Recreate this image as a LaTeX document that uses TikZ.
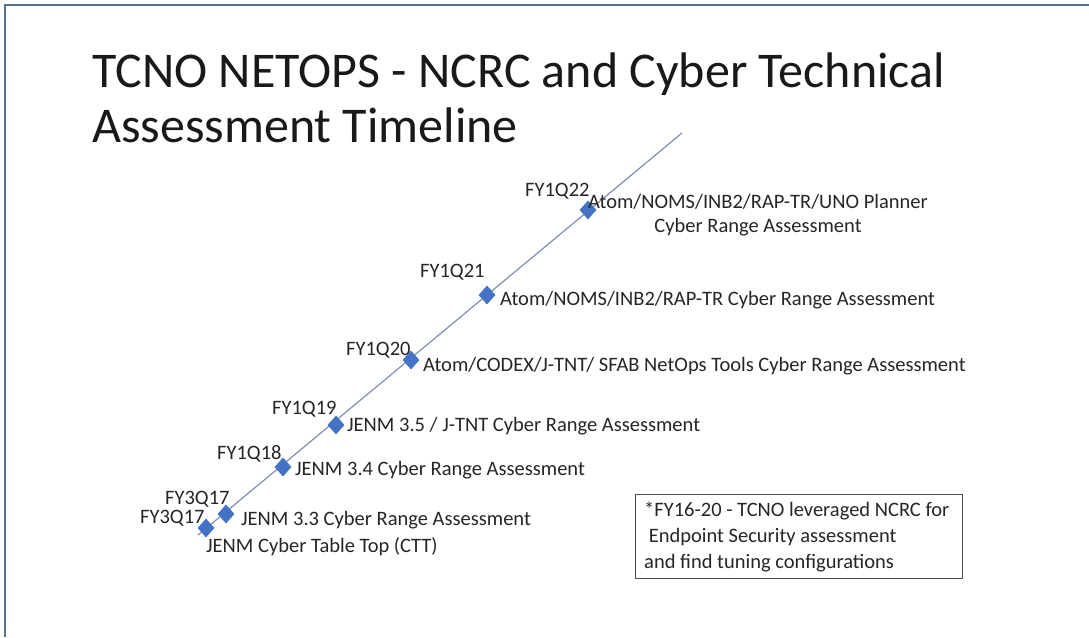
\documentclass[tikz,border=0pt]{standalone}
\usepackage{fontspec}
\setmainfont{Carlito}
\usetikzlibrary{shapes.geometric}
\definecolor{frameblue}{HTML}{5B7190}
\definecolor{dia}{HTML}{4472C4}
\definecolor{tline}{HTML}{7F8FB0}
\tikzset{
  dmd/.style={diamond,fill=dia,draw=none,minimum width=17pt,minimum height=19pt,inner sep=0pt},
  lbl/.style={anchor=base west,inner sep=0pt,font=\fontsize{20.5}{24}\selectfont,text=black!85},
}
\begin{document}
\begin{tikzpicture}[x=1pt,y=-1pt]
\useasboundingbox (0,0) rectangle (1089,637);
\fill[white] (0,0) rectangle (1089,637);
\draw[frameblue,line width=2.5pt] (5,637) -- (5,5) -- (1089,5);
% title
\node[anchor=base west,inner sep=0pt,align=left,font=\fontsize{50}{55}\selectfont,text=black!90] (title) at (92,142)
  {TCNO NETOPS - NCRC and Cyber Technical\\Assessment Timeline};
% timeline
\coordinate (s) at (198,535);
\coordinate (e) at (682,133);
\draw[tline,line width=1.2pt] (s) -- (e);
\node[dmd] (d1) at (206,528) {};
\node[dmd] (d2) at (226,514) {};
\node[dmd] (d3) at (283,467) {};
\node[dmd] (d4) at (336,425) {};
\node[dmd] (d5) at (411,360) {};
\node[dmd] (d6) at (487,295) {};
\node[dmd] (d7) at (588,210) {};
% labels
\node[lbl] (q22) at (525,196) {FY1Q22};
\node[lbl,align=center,anchor=base] (t22) at (758,232) {Atom/NOMS/INB2/RAP-TR/UNO Planner\\Cyber Range Assessment};
\node[lbl] (q21) at (420,277) {FY1Q21};
\node[lbl] (t21) at (500,305) {Atom/NOMS/INB2/RAP-TR Cyber Range Assessment};
\node[lbl] (q20) at (346,355) {FY1Q20};
\node[lbl] (t20) at (423,371) {Atom/CODEX/J-TNT/ SFAB NetOps Tools Cyber Range Assessment};
\node[lbl] (q19) at (272,414) {FY1Q19};
\node[lbl] (t19) at (347,431) {JENM 3.5 / J-TNT Cyber Range Assessment};
\node[lbl] (q18) at (217,459) {FY1Q18};
\node[lbl] (t18) at (295,475) {JENM 3.4 Cyber Range Assessment};
\node[lbl] (q17b) at (165,504) {FY3Q17};
\node[lbl] (t17b) at (241,525) {JENM 3.3 Cyber Range Assessment};
\node[lbl] (q17a) at (140,523) {FY3Q17};
\node[lbl] (t17a) at (206,552) {JENM Cyber Table Top (CTT)};
% note box
\draw[black!70,line width=0.8pt] (635,494) rectangle (962,578);
\node[lbl] (n1) at (644,516) {*FY16-20 - TCNO leveraged NCRC for};
\node[lbl] (n2) at (644,542) {\ Endpoint Security assessment};
\node[lbl] (n3) at (644,568) {and find tuning configurations};
\end{tikzpicture}
\end{document}
